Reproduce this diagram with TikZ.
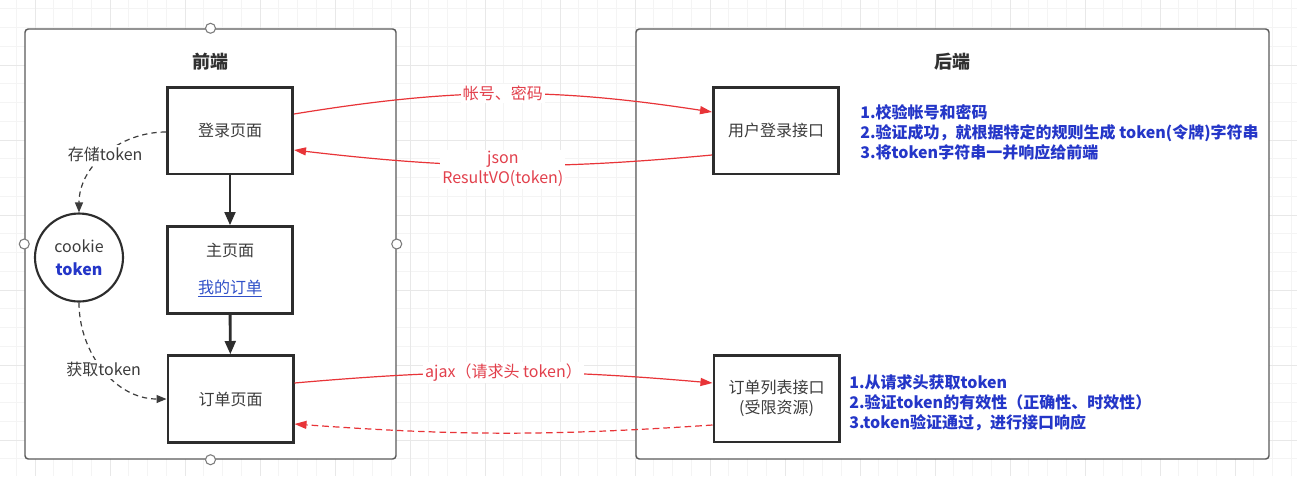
\documentclass[tikz,border=0pt]{standalone}
\usepackage{fontspec}
\setmainfont{Noto Sans CJK SC}
\usetikzlibrary{arrows.meta,calc}
\definecolor{gridminor}{RGB}{244,244,244}
\definecolor{gridmajor}{RGB}{232,232,232}
\definecolor{framec}{RGB}{90,90,90}
\definecolor{boxc}{RGB}{45,45,45}
\definecolor{txt}{RGB}{60,60,60}
\definecolor{redl}{RGB}{232,52,56}
\definecolor{redt}{RGB}{226,64,76}
\definecolor{bluet}{RGB}{36,54,200}
\definecolor{linkc}{RGB}{48,80,200}
\begin{document}
\begin{tikzpicture}[x=0.75pt,y=-0.75pt,
  container/.style={draw=framec,line width=1.1pt,fill=white,rounded corners=2.5pt,inner sep=0pt},
  handle/.style={circle,draw=framec!80,line width=0.8pt,fill=white,minimum size=7.5pt,inner sep=0pt},
  title/.style={font=\fontsize{13.5}{16}\selectfont\bfseries,text=txt!80!black},
  pagebox/.style={draw=boxc,line width=2pt,fill=white,minimum width=94pt,minimum height=65pt,inner sep=0pt,align=center,font=\fontsize{12}{15}\selectfont,text=txt},
  store/.style={circle,draw=boxc,line width=1.6pt,fill=white,minimum size=66pt,inner sep=0pt,align=center,font=\fontsize{12}{17}\selectfont,text=txt},
  flow/.style={draw=boxc,line width=2.2pt,-{Triangle[length=10pt,width=8pt]}},
  dashgray/.style={draw=txt,line width=0.9pt,dash pattern=on 4pt off 3pt,-{Triangle[length=7.5pt,width=6pt]}},
  redarrow/.style={draw=redl,line width=0.9pt,-{Triangle[length=9pt,width=6pt]}},
  lbl/.style={fill=white,inner sep=1.5pt,font=\fontsize{12}{15}\selectfont,text=redt},
  glbl/.style={fill=white,inner sep=1.5pt,font=\fontsize{12}{15}\selectfont,text=txt},
  note/.style={anchor=west,align=left,inner sep=0pt,font=\fontsize{12}{15}\selectfont\bfseries,text=bluet}
]
\useasboundingbox (0,0) rectangle (1297,476);
\fill[white] (0,0) rectangle (1297,476);
% background grid
\foreach \i in {0,...,70} {
  \draw[gridminor,line width=0.5pt] ({-2.5+18.75*\i},0) -- ({-2.5+18.75*\i},476);
}
\foreach \i in {0,...,26} {
  \draw[gridminor,line width=0.5pt] (0,{-10+18.75*\i}) -- (1297,{-10+18.75*\i});
}
\foreach \i in {0,...,17} {
  \draw[gridmajor,line width=0.6pt] ({35+75*\i},0) -- ({35+75*\i},476);
}
\foreach \i in {0,...,6} {
  \draw[gridmajor,line width=0.6pt] (0,{-10+75*\i}) -- (1297,{-10+75*\i});
}
% containers
\node[container,minimum width=278.25pt,minimum height=322.5pt] (fe) at (210.5,244) {};
\node[container,minimum width=474.75pt,minimum height=322.5pt] (be) at (952.5,244) {};
\node[handle] (h1) at (fe.north) {};
\node[handle] (h2) at (fe.south) {};
\node[handle] (h3) at (fe.west) {};
\node[handle] (h4) at (fe.east) {};
\node[title] (t1) at (210,62) {前端};
\node[title] (t2) at (952,62) {后端};
% front-end nodes
\node[pagebox] (login) at (230,130.5) {登录页面};
\node[pagebox] (main) at (230,270) {主页面\\[12.75pt]\textcolor{linkc}{\underline{我的订单}}};
\node[pagebox] (order) at (230.5,399) {订单页面};
\node[store] (cookie) at (79,257.5) {cookie\\\textcolor{bluet}{\bfseries token}};
% back-end nodes
\node[pagebox] (ulogin) at (776,130.5) {用户登录接口};
\node[pagebox] (olist) at (776.5,398.5) {订单列表接口\\(受限资源)};
\node[note] (n1) at (860,132) {1.校验帐号和密码\\2.验证成功，就根据特定的规则生成 token(令牌)字符串\\3.将token字符串一并响应给前端};
\node[note] (n2) at (849,403) {1.从请求头获取token\\2.验证token的有效性（正确性、时效性）\\3.token验证通过，进行接口响应};
% flow arrows
\draw[flow] (login) -- (main);
\draw[flow] (main) -- (order);
% cookie arrows
\draw[dashgray] ($(login.west)+(0,1.5)$) to[out=180,in=90] node[glbl,pos=0.5] {存储token} (cookie.north);
\draw[dashgray] (cookie.south) to[out=-90,in=180] node[glbl,pos=0.5] {获取token} (order.west);
% requests
\draw[redarrow] ($(login.east)+(0,-16.5)$) to[bend left=9] node[lbl] {帐号、密码} ($(ulogin.west)+(0,-18.5)$);
\draw[redarrow] ($(ulogin.west)+(0,24.5)$) to[bend left=6] node[lbl,align=center,yshift=-3pt] {json\\ResultVO(token)} ($(login.east)+(0,19.5)$);
\draw[redarrow] ($(order.east)+(0,-16)$) to[bend left=5] node[lbl] {ajax（请求头 token）} ($(olist.west)+(0,-15.5)$);
\draw[redarrow,dash pattern=on 5pt off 3pt] ($(olist.west)+(0,26.5)$) to[bend left=4] ($(order.east)+(0,25)$);
\end{tikzpicture}
\end{document}
